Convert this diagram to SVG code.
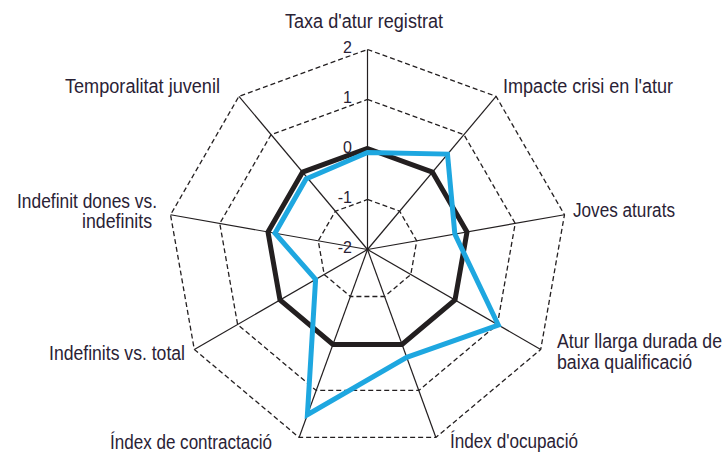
<svg xmlns="http://www.w3.org/2000/svg" width="725" height="455" viewBox="0 0 725 455">
<style>
.bg{fill:#ffffff}
.ring{fill:none;stroke:#231f20;stroke-width:1.3;stroke-dasharray:5 3}
.axis{stroke:#231f20;stroke-width:1.2}
.lbl{font-family:"Liberation Sans",Arial,sans-serif;font-size:20px;fill:#2a2235}
.tick{font-family:"Liberation Sans",Arial,sans-serif;font-size:16px;fill:#2a2235;text-anchor:end}
.black{fill:none;stroke:#231f20;stroke-width:5;stroke-linejoin:miter}
.blue{fill:none;stroke:#1ea7e0;stroke-width:5;stroke-linejoin:miter}
</style>
<rect class="bg" x="0" y="0" width="725" height="455"/>
<g id="grid" transform="translate(367.5,249.5)">
<polygon class="ring" points="0,-200 128.56,-153.2 196.96,-34.72 173.2,100 68.4,187.94 -68.4,187.94 -173.2,100 -196.96,-34.72 -128.56,-153.2"/>
<polygon class="ring" points="0,-150 96.42,-114.9 147.72,-26.04 129.9,75 51.3,140.96 -51.3,140.96 -129.9,75 -147.72,-26.04 -96.42,-114.9"/>
<polygon class="ring" points="0,-100 64.28,-76.6 98.48,-17.36 86.6,50 34.2,93.97 -34.2,93.97 -86.6,50 -98.48,-17.36 -64.28,-76.6"/>
<polygon class="ring" points="0,-50 32.14,-38.3 49.24,-8.68 43.3,25 17.1,46.98 -17.1,46.98 -43.3,25 -49.24,-8.68 -32.14,-38.3"/>
</g>
<g id="connectors" transform="translate(367.5,249.5)">
<line class="axis" x1="0" y1="0" x2="0" y2="-200"/>
<line class="axis" x1="0" y1="0" x2="128.56" y2="-153.2"/>
<line class="axis" x1="0" y1="0" x2="196.96" y2="-34.72"/>
<line class="axis" x1="0" y1="0" x2="173.2" y2="100"/>
<line class="axis" x1="0" y1="0" x2="68.4" y2="187.94"/>
<line class="axis" x1="0" y1="0" x2="-68.4" y2="187.94"/>
<line class="axis" x1="0" y1="0" x2="-173.2" y2="100"/>
<line class="axis" x1="0" y1="0" x2="-196.96" y2="-34.72"/>
<line class="axis" x1="0" y1="0" x2="-128.56" y2="-153.2"/>
</g>
<g id="series" transform="translate(367.5,249.5)">
<polygon class="black" points="0,-101 64.9,-77.4 99.5,-17.5 87.5,50.5 34.5,94.9 -34.5,94.9 -87.5,50.5 -99.5,-17.5 -64.9,-77.4"/>
<polygon class="blue" points="0,-97 80,-95.4 87.35,-15.4 130.8,75.5 39.2,107.8 -60.1,165.2 -51.9,29.95 -92.5,-16.3 -61.5,-70.5"/>
</g>
<g id="ticks">
<text class="tick" x="352" y="53">2</text>
<text class="tick" x="352" y="103">1</text>
<text class="tick" x="352" y="153">0</text>
<text class="tick" x="352" y="203">-1</text>
<text class="tick" x="352" y="253">-2</text>
</g>
<g id="n-taxa"><text class="lbl" x="285" y="28" textLength="158" lengthAdjust="spacingAndGlyphs">Taxa d'atur registrat</text></g>
<g id="n-impacte"><text class="lbl" x="503" y="93" textLength="170" lengthAdjust="spacingAndGlyphs">Impacte crisi en l'atur</text></g>
<g id="n-joves"><text class="lbl" x="573" y="217" textLength="102" lengthAdjust="spacingAndGlyphs">Joves aturats</text></g>
<g id="n-atur"><text class="lbl" x="557" y="348" textLength="165" lengthAdjust="spacingAndGlyphs">Atur llarga durada de</text><text class="lbl" x="557" y="369" textLength="135" lengthAdjust="spacingAndGlyphs">baixa qualificació</text></g>
<g id="n-ocupacio"><text class="lbl" x="450" y="448" textLength="128" lengthAdjust="spacingAndGlyphs">Índex d'ocupació</text></g>
<g id="n-contractacio"><text class="lbl" x="110" y="449" textLength="162" lengthAdjust="spacingAndGlyphs">Índex de contractació</text></g>
<g id="n-indefinits"><text class="lbl" x="49" y="360" textLength="136" lengthAdjust="spacingAndGlyphs">Indefinits vs. total</text></g>
<g id="n-dones"><text class="lbl" x="17" y="208" textLength="140" lengthAdjust="spacingAndGlyphs">Indefinit dones vs.</text><text class="lbl" x="82" y="228" textLength="70" lengthAdjust="spacingAndGlyphs">indefinits</text></g>
<g id="n-temporalitat"><text class="lbl" x="65" y="93" textLength="155" lengthAdjust="spacingAndGlyphs">Temporalitat juvenil</text></g>
</svg>
